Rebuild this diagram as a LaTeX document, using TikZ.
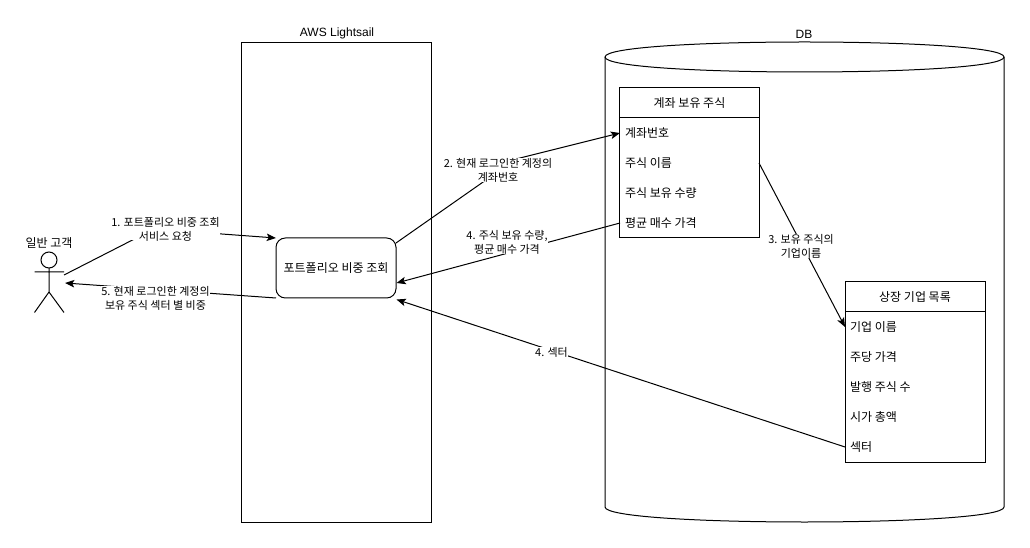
\documentclass[tikz,border=0pt]{standalone}
\usepackage{fontspec}
\setmainfont{Liberation Sans}
\newfontfamily\kr{Noto Sans CJK KR}
\usetikzlibrary{arrows.meta}
\tikzset{
  x=0.75pt,y=-0.75pt,
  every node/.style={inner sep=0pt,outer sep=0pt},
  ln/.style={draw=black,line width=0.75pt},
  conn/.style={ln,line join=miter},
  arr/.style={conn,-{Stealth[length=7pt,width=5.6pt,inset=1.6pt]}},
  plain/.style={font=\fontsize{9}{11}\selectfont},
  krtext/.style={font=\kr\fontsize{9}{11}\selectfont},
  elabel/.style={font=\kr\fontsize{8.25}{10.5}\selectfont,fill=white,align=center,text depth=0pt},
  tbl/.style={ln,fill=white,minimum width=105pt,minimum height=22.5pt,krtext},
  rowt/.style={krtext,anchor=west},
}
\begin{document}
\begin{tikzpicture}
\useasboundingbox (0,0) rectangle (1030,548);
\fill[white] (0,0) rectangle (1030,548);
% containers
\node[ln,minimum width=142.5pt,minimum height=359.25pt] (aws) at (336,282.5) {};
\node[plain,anchor=south] (awst) at (337,39) {AWS Lightsail};
\coordinate (cl) at (605,57);
\coordinate (cr) at (1004,57);
\coordinate (bl) at (605,507);
\coordinate (br) at (1004,507);
\draw[ln,fill=white] (cl) .. controls (605,37) and (1004,37) .. (cr)
  -- (br) .. controls (1004,527) and (605,527) .. (bl) -- cycle;
\draw[ln] (cl) .. controls (605,77) and (1004,77) .. (cr);
\node[plain,anchor=south] (dbt) at (804,39) {DB};
% box
\node[ln,fill=white,rounded corners=7pt,minimum width=90pt,minimum height=45pt,krtext] (box) at (336,268) {포트폴리오 비중 조회};
% table 1
\node[tbl] (t1) at (689.5,103) {계좌 보유 주식};
\node[ln,fill=white,minimum width=105pt,minimum height=90pt,anchor=north] (t1b) at (t1.south) {};
\node[rowt] (a1) at (625,133) {계좌번호};
\node[rowt] (a2) at (625,163) {주식 이름};
\node[rowt] (a3) at (625,193) {주식 보유 수량};
\node[rowt] (a4) at (625,223) {평균 매수 가격};
% table 2
\node[tbl] (t2) at (915,297) {상장 기업 목록};
\node[ln,fill=white,minimum width=105pt,minimum height=112.5pt,anchor=north] (t2b) at (t2.south) {};
\node[rowt] (b1) at (850,327) {기업 이름};
\node[rowt] (b2) at (850,357) {주당 가격};
\node[rowt] (b3) at (850,387) {발행 주식 수};
\node[rowt] (b4) at (850,417) {시가 총액};
\node[rowt] (b5) at (850,447) {섹터};
% actor
\node[ln,circle,minimum size=12pt,fill=white] (head) at (49,260) {};
\coordinate (hip) at (49,292);
\coordinate (armL) at (34.5,272);
\coordinate (armR) at (64,272);
\coordinate (legL) at (34.5,312.5);
\coordinate (legR) at (64,312.5);
\draw[ln] (head.south) -- (hip) (armL) -- (armR) (legL) -- (hip) -- (legR);
\node[krtext] (actor) at (49,243) {일반 고객};
\coordinate (actOut) at (64,275);
\coordinate (actIn) at (65,283);
% end points
\coordinate (w1) at (154,229);
\coordinate (s2) at (396,243);
\coordinate (w2) at (516,159);
\coordinate (e4) at (396.5,283);
\coordinate (e4b) at (396.5,299.5);
\coordinate (s5) at (276,298);
\coordinate (e2) at (620,133);
\coordinate (s4) at (620,223);
\coordinate (s3) at (759,163);
\coordinate (e3) at (845,327);
\coordinate (s4b) at (845,447);
% connectors
\draw[arr] (actOut) -- (w1) -- (box.north west);
\draw[arr] (s2) -- (w2) -- (e2);
\draw[arr] (s4) -- (e4);
\draw[arr] (s3) -- (e3);
\draw[arr] (s4b) -- (e4b);
\draw[arr] (s5) -- (actIn);
% labels
\node[elabel] (l1) at (165.5,228.5) {1. 포트폴리오 비중 조회\\서비스 요청};
\node[elabel] (l2) at (498,170) {2. 현재 로그인한 계정의\\계좌번호};
\node[elabel] (l4) at (507,242) {4. 주식 보유 수량,\\평균 매수 가격};
\node[elabel] (l3) at (801,246) {3. 보유 주식의\\기업이름};
\node[elabel] (l4b) at (551.5,352) {4. 섹터};
\node[elabel] (l5) at (155.5,298) {5. 현재 로그인한 계정의\\보유 주식 섹터 별 비중};
\end{tikzpicture}
\end{document}
